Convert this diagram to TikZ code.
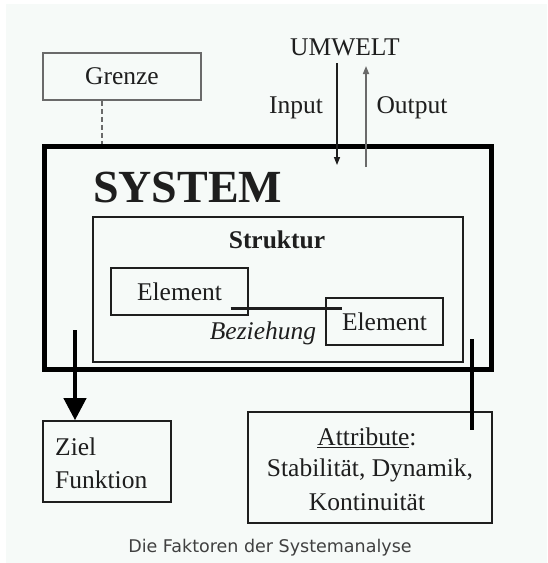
\documentclass[tikz,border=0pt]{standalone}
\usepackage{fontspec}
\setmainfont{Liberation Serif}
\newfontfamily\capfont{DejaVu Sans}
\usetikzlibrary{arrows.meta,calc}
\definecolor{bgmint}{HTML}{F6FAF8}
\definecolor{ink}{HTML}{1E1E1E}
\definecolor{greyline}{HTML}{6A6A6A}
\tikzset{
  txt/.style={font=\fontsize{25.5}{32}\selectfont, text=ink, inner sep=0pt},
  thinbox/.style={draw=ink, line width=1.3pt, inner sep=0pt},
  greybox/.style={draw=greyline, line width=1.6pt, inner sep=0pt},
}
\begin{document}
\begin{tikzpicture}[x=1pt,y=-1pt]
\useasboundingbox (0,0) rectangle (547,563);
\fill[white] (0,0) rectangle (547,563);
\fill[bgmint] (6,4) rectangle (547,563);

% Grenze
\node[greybox, minimum width=158pt, minimum height=47pt, txt] (grenze) at (122,76.5) {Grenze};

% UMWELT
\node[txt] (umwelt) at (345,47) {UMWELT};
\node[txt] (input) at (296,108) {Input};
\node[txt] (output) at (412,108) {Output};

% System box
\node[draw=black, line width=5pt, minimum width=447pt, minimum height=223pt, inner sep=0pt] (system) at (267.5,257.5) {};
\node[anchor=base west, inner sep=0pt, text=ink, font=\fontsize{46}{50}\selectfont\bfseries] (systxt) at (93,202) {SYSTEM};

% Struktur
\node[draw=ink, line width=1.2pt, minimum width=370pt, minimum height=145pt, inner sep=0pt] (struktur) at (278,289.5) {};
\node[txt, font=\fontsize{25.5}{32}\selectfont\bfseries] (struktxt) at (277,240) {Struktur};

% Elements
\node[thinbox, minimum width=137pt, minimum height=47pt, txt] (e1) at (179.5,291.5) {Element};
\node[thinbox, minimum width=117pt, minimum height=47pt, txt] (e2) at (384.5,321.5) {Element};
\coordinate (b1) at ($(e1.south east)+(-18,-7)$);
\coordinate (b2) at ($(e2.north west)+(17,10)$);
\draw[ink, line width=2.8pt] (b1) -- (b2 |- b1);
\node[txt, font=\fontsize{25.5}{32}\selectfont\itshape] (bez) at (263,333) {Beziehung};

% Input / Output arrows
\coordinate (in1) at (337,63);
\coordinate (in2) at (337,165);
\coordinate (out1) at (366,167);
\coordinate (out2) at (366,66);
\draw[ink, line width=1.4pt, -{Triangle[length=8pt,width=6pt]}] (in1) -- (in2);
\draw[greyline, line width=1.6pt, -{Triangle[length=8pt,width=6pt]}] (out1) -- (out2);

% Grenze dashed
\draw[greyline, line width=1.6pt, dash pattern=on 5pt off 3pt] (grenze.south -| 102,0) -- (102,143.5);

% Ziel / Funktion
\node[thinbox, draw=ink, line width=1.6pt, minimum width=128pt, minimum height=81pt] (ziel) at (107,461.5) {};
\node[txt, anchor=west] (zieltxt) at (55,447) {Ziel};
\node[txt, anchor=west] (funktxt) at (55,480) {Funktion};
\coordinate (zs) at (75,330);
\draw[black, line width=4pt, -{Triangle[length=22pt,width=22pt]}] (zs) -- (zs |- ziel.north);

% Attribute
\node[thinbox, draw=ink, line width=1.6pt, minimum width=244pt, minimum height=111pt] (attr) at (370,467.5) {};
\node[txt] (attr1) at (367,438) {\underline{Attribute}:};
\node[txt] (attr2) at (370,470) {Stabilität, Dynamik,};
\node[txt] (attr3) at (367,502) {Kontinuität};
\coordinate (as) at (472,339);
\draw[black, line width=4pt] (as) -- (472,430);

% Caption
\node[inner sep=0pt, text=ink!85, font=\capfont\fontsize{17.5}{20}\selectfont] (cap) at (270,548) {Die Faktoren der Systemanalyse};
\end{tikzpicture}
\end{document}
